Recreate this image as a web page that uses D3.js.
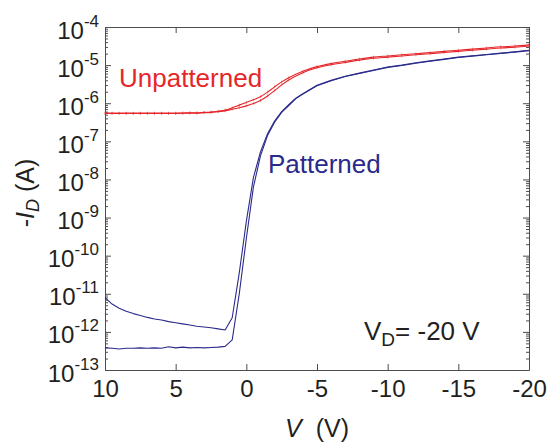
<!DOCTYPE html>
<html>
  <head>
    <meta charset="utf-8" />
    <style>
      body { margin: 0; background: #fff; }
      text { font-family: "Liberation Sans", Arial, sans-serif; fill: #231f20; }
    </style>
  </head>
  <body>

<svg id="graph"></svg>

<script src="https://d3js.org/d3.v7.min.js"></script>
<script>
// taille de la fenêtre
const WIDTH = 547
const HEIGHT = 448
// cadre du graphique
const LEFT = 105
const RIGHT = 529
const TOP = 27
const BOTTOM = 370

// ticks de l'axe X (tension de grille, V)
const X_TICKS = [10, 5, 0, -5, -10, -15, -20]
// exposants des ticks de l'axe Y
const Y_EXPONENTS = [-4, -5, -6, -7, -8, -9, -10, -11, -12, -13]

// courbe "Unpatterned" : tensions et log10(-I_D) pour les deux balayages
const V_RED = [10, 9.5, 9, 8.5, 8, 7.5, 7, 6.5, 6, 5.5, 5, 4.5, 4, 3.5, 3, 2.5, 2, 1.5, 1, 0.5, 0,
  -0.5, -1, -1.5, -2, -2.5, -3, -4, -5, -6, -7, -8, -9, -10, -11, -12, -13, -14, -15, -16, -17, -18, -19, -20]
const LOG_RED_A = [-6.26, -6.26, -6.26, -6.26, -6.26, -6.26, -6.26, -6.26, -6.26, -6.26, -6.26, -6.255, -6.25, -6.25, -6.24, -6.23, -6.21, -6.18, -6.12, -6.05, -5.98,
  -5.91, -5.83, -5.71, -5.57, -5.44, -5.33, -5.16, -5.04, -4.96, -4.90, -4.84, -4.79, -4.76, -4.73, -4.70, -4.67, -4.64, -4.61, -4.58, -4.55, -4.52, -4.50, -4.47]
const LOG_RED_B = [-6.27, -6.27, -6.27, -6.27, -6.27, -6.27, -6.27, -6.27, -6.27, -6.27, -6.27, -6.265, -6.26, -6.26, -6.25, -6.24, -6.22, -6.20, -6.16, -6.12, -6.07,
  -6.01, -5.93, -5.81, -5.67, -5.52, -5.39, -5.20, -5.07, -4.99, -4.93, -4.87, -4.82, -4.79, -4.76, -4.73, -4.70, -4.67, -4.64, -4.61, -4.58, -4.55, -4.53, -4.50]

// courbe "Patterned"
const V_BLUE = [10, 9.5, 9, 8.5, 8, 7.5, 7, 6.5, 6, 5.5, 5, 4.5, 4, 3.5, 3, 2.5, 2, 1.5, 1, 0.5, 0,
  -0.5, -1, -1.5, -2, -2.5, -3, -3.5, -4, -5, -6, -7, -8, -9, -10, -11, -12, -13, -14, -15, -16, -17, -18, -19, -20]
const LOG_BLUE_A = [-11.10, -11.27, -11.38, -11.46, -11.52, -11.57, -11.62, -11.66, -11.69, -11.73, -11.76, -11.79, -11.82, -11.85, -11.87, -11.89, -11.92, -11.95, -11.63, -10.45, -9.10,
  -7.95, -7.28, -6.80, -6.47, -6.22, -6.04, -5.87, -5.75, -5.53, -5.40, -5.29, -5.21, -5.13, -5.05, -5.00, -4.94, -4.89, -4.84, -4.79, -4.755, -4.72, -4.685, -4.65, -4.61]
const LOG_BLUE_B = [-12.42, -12.43, -12.45, -12.43, -12.43, -12.42, -12.43, -12.42, -12.43, -12.39, -12.42, -12.40, -12.42, -12.41, -12.42, -12.41, -12.40, -12.38, -12.21, -11.00, -9.55,
  -8.20, -7.38, -6.85, -6.50, -6.24, -6.06, -5.88, -5.76, -5.54, -5.41, -5.30, -5.22, -5.14, -5.06, -5.01, -4.95, -4.90, -4.85, -4.80, -4.765, -4.73, -4.695, -4.66, -4.62]

const RED = '#e5262a'
const BLUE = '#2a2a8c'
const AXIS = '#4d4d4d'

const svg = d3.select('#graph')
  .attr('width', WIDTH)
  .attr('height', HEIGHT)

const x = d3.scaleLinear().domain([10, -20]).range([LEFT, RIGHT])
const y = d3.scaleLog().domain([1e-13, 1e-4]).range([BOTTOM, TOP])

// ticks mineurs (2..9 x 10^n)
const minors = []
for (let e = -13; e < -4; e++) {
  for (let k = 2; k <= 9; k++) minors.push(k * Math.pow(10, e))
}
const majors = Y_EXPONENTS.map(e => Math.pow(10, e))

function styleAxis(g) {
  g.selectAll('path, line').attr('stroke', AXIS).attr('stroke-width', 1)
}

// axes du bas et du haut
svg.append('g')
  .attr('transform', `translate(0,${BOTTOM})`)
  .call(d3.axisBottom(x).tickValues(X_TICKS).tickSizeInner(-6).tickSizeOuter(0).tickPadding(10)
    .tickFormat(d => d < 0 ? '-' + (-d) : String(d)))
  .call(styleAxis)
  .call(g => g.selectAll('text').attr('font-size', 24).attr('font-family', null).attr('fill', '#231f20'))

svg.append('g')
  .attr('transform', `translate(0,${TOP})`)
  .call(d3.axisTop(x).tickValues(X_TICKS).tickSizeInner(-6).tickSizeOuter(0).tickFormat(''))
  .call(styleAxis)

// axe de gauche : majeurs avec labels, puis mineurs
const leftAxis = svg.append('g')
  .attr('transform', `translate(${LEFT},0)`)
  .call(d3.axisLeft(y).tickValues(majors).tickSizeInner(-6).tickSizeOuter(0).tickPadding(5).tickFormat(''))
  .call(styleAxis)

leftAxis.selectAll('.tick text')
  .attr('font-family', null)
  .attr('fill', '#231f20')
  .attr('dy', null)
  .attr('x', -6)
  .attr('y', 11)
  .each(function (d) {
    const t = d3.select(this)
    const e = Math.round(Math.log10(d))
    t.append('tspan').attr('font-size', 24).text('10')
    t.append('tspan').attr('font-size', 17).attr('dy', -12).text('-' + (-e))
  })

svg.append('g')
  .attr('transform', `translate(${LEFT},0)`)
  .call(d3.axisLeft(y).tickValues(minors).tickSizeInner(-3).tickSizeOuter(0).tickFormat(''))
  .call(styleAxis)
  .call(g => g.select('.domain').remove())

// axe de droite
svg.append('g')
  .attr('transform', `translate(${RIGHT},0)`)
  .call(d3.axisRight(y).tickValues(majors).tickSizeInner(-6).tickSizeOuter(0).tickFormat(''))
  .call(styleAxis)
svg.append('g')
  .attr('transform', `translate(${RIGHT},0)`)
  .call(d3.axisRight(y).tickValues(minors).tickSizeInner(-3).tickSizeOuter(0).tickFormat(''))
  .call(styleAxis)
  .call(g => g.select('.domain').remove())

// courbes : lissées pour le rouge, segments droits pour le bleu (coudes nets)
const smoothLine = d3.line()
  .curve(d3.curveMonotoneX)
  .x(d => x(d[0]))
  .y(d => y(Math.pow(10, d[1])))
const straightLine = d3.line()
  .x(d => x(d[0]))
  .y(d => y(Math.pow(10, d[1])))

const series = [
  { v: V_RED, l: LOG_RED_A, color: RED, marks: true, gen: smoothLine },
  { v: V_RED, l: LOG_RED_B, color: RED, marks: true, gen: smoothLine },
  { v: V_BLUE, l: LOG_BLUE_A, color: BLUE, marks: false, gen: straightLine },
  { v: V_BLUE, l: LOG_BLUE_B, color: BLUE, marks: false, gen: straightLine },
]

series.forEach(s => {
  const pts = s.v.map((v, i) => [v, s.l[i]])
  svg.append('path')
    .datum(pts)
    .attr('fill', 'none')
    .attr('stroke', s.color)
    .attr('stroke-width', 1.1)
    .attr('stroke-linejoin', 'round')
    .attr('d', s.gen)
  if (s.marks) {
    svg.append('g').selectAll('line')
      .data(pts)
      .enter()
        .append('line')
        .attr('x1', d => x(d[0]))
        .attr('x2', d => x(d[0]))
        .attr('y1', d => y(Math.pow(10, d[1])) - 1.5)
        .attr('y2', d => y(Math.pow(10, d[1])) + 1.5)
        .attr('stroke', s.color)
        .attr('stroke-opacity', 0.7)
        .attr('stroke-width', 0.6)
  }
})

// annotations
svg.append('text')
  .attr('x', 119).attr('y', 87)
  .attr('font-size', 26)
  .style('fill', RED)
  .text('Unpatterned')

svg.append('text')
  .attr('x', 268).attr('y', 173)
  .attr('font-size', 26)
  .style('fill', BLUE)
  .text('Patterned')

const vd = svg.append('text')
  .attr('x', 364).attr('y', 340)
  .attr('font-size', 26)
vd.append('tspan').text('V')
vd.append('tspan').attr('font-size', 19).attr('dy', 6).text('D')
vd.append('tspan').attr('dy', -6).text('= -20 V')

// titre de l'axe X
const xl = svg.append('text')
  .attr('x', 317).attr('y', 437)
  .attr('text-anchor', 'middle')
  .attr('font-size', 25)
xl.append('tspan').attr('font-style', 'italic').text('V')
xl.append('tspan').text('\u00a0 (V)')

// titre de l'axe Y
const yl = svg.append('text')
  .attr('transform', 'translate(34,193) rotate(-90)')
  .attr('text-anchor', 'middle')
  .attr('font-size', 25)
yl.append('tspan').text('-')
yl.append('tspan').attr('font-style', 'italic').text('I')
yl.append('tspan').attr('font-style', 'italic').attr('font-size', 18).attr('dy', 5).text('D')
yl.append('tspan').attr('dy', -5).text('\u00a0(A)')

</script>
  </body>
</html>
